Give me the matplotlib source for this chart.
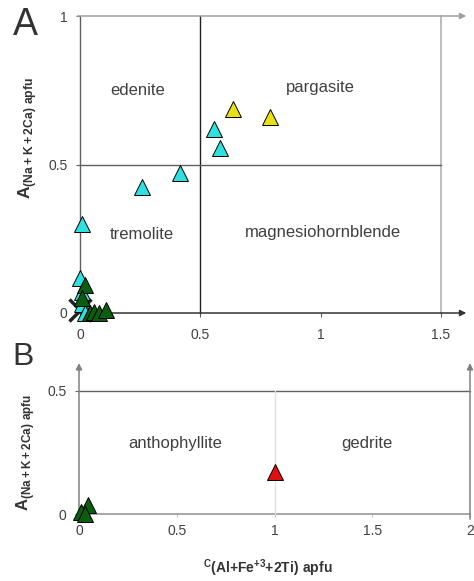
import matplotlib
matplotlib.use('Agg')
import matplotlib.pyplot as plt

plt.rcParams['font.family'] = ['Liberation Sans', 'DejaVu Sans']
plt.rcParams['mathtext.fontset'] = 'custom'
plt.rcParams['mathtext.rm'] = 'Liberation Sans'
plt.rcParams['mathtext.bf'] = 'Liberation Sans:bold'

# panel A: amphiboles (Ca group)
cyan_x = [0.008, 0.257, 0.414, 0.556, 0.58, 0.0, 0.01, 0.01, 0.02]
cyan_y = [0.30, 0.423, 0.472, 0.618, 0.554, 0.118, 0.07, 0.03, 0.0]
yellow_x = [0.635, 0.789]
yellow_y = [0.688, 0.661]
greenA_x = [0.02, 0.01, 0.04, 0.06, 0.08, 0.11]
greenA_y = [0.095, 0.05, 0.0, 0.005, 0.0, 0.01]
cross_x = [0.0]
cross_y = [0.01]

# panel B: Mg-Fe-Mn amphiboles
greenB_x = [0.046, 0.01, 0.03]
greenB_y = [0.038, 0.01, 0.0]
red_x = [1.0]
red_y = [0.17]

ticksA_x = [0, 0.5, 1, 1.5]
ticksA_y = [0, 0.5, 1]
ticksB_x = [0, 0.5, 1, 1.5, 2]
ticksB_y = [0, 0.5]

regionsA = [('edenite', 0.24, 0.75), ('pargasite', 1.0, 0.76),
            ('tremolite', 0.257, 0.264), ('magnesiohornblende', 1.01, 0.27)]
regionsB = [('anthophyllite', 0.49, 0.286), ('gedrite', 1.47, 0.286)]

CYAN = '#2ee0e0'
YELLOW = '#e8e010'
GREEN = '#0b5e10'
RED = '#e01010'
LINE = '#606060'
TXT = '#404040'

fig = plt.figure(figsize=(4.74, 5.81), dpi=100)
axA = fig.add_axes([80/474, 1-313/581, 361/474, 297/581])
axB = fig.add_axes([79/474, 1-514.3/581, 391/474, 148/581])


def arrow(ax, x0, y0, x1, y1, color=LINE):
    ax.annotate('', xy=(x1, y1), xytext=(x0, y0), annotation_clip=False,
                arrowprops=dict(arrowstyle='-|>', color=color, lw=1.1,
                                mutation_scale=9, shrinkA=0, shrinkB=0))


def tri(ax, xs, ys, color, z=3):
    ax.plot(xs, ys, '^', ms=11, mfc=color, mec='black', mew=0.7,
            ls='none', clip_on=False, zorder=z)


for ax in (axA, axB):
    for s in ax.spines.values():
        s.set_visible(False)
    ax.tick_params(length=3, color=LINE, labelcolor=TXT, labelsize=10)

# ---- panel A ----
axA.set_xlim(0, 1.5)
axA.set_ylim(0, 1)
axA.set_xticks(ticksA_x, ['0', '0.5', '1', '1.5'])
axA.set_yticks(ticksA_y, ['0', '0.5', '1'])
axA.tick_params(axis='x', pad=8)
axA.tick_params(axis='y', pad=6)

axA.plot([0, 0], [0, 1], color=LINE, lw=1, clip_on=False)
axA.plot([0.5, 0.5], [0, 1], color='#222222', lw=1, clip_on=False)
axA.plot([1.5, 1.5], [0, 1], color='#b0b0b0', lw=1.2, clip_on=False)
axA.plot([0, 1.5], [0.5, 0.5], color=LINE, lw=1, clip_on=False)
arrow(axA, -0.01, 1, 1.605, 1, color='#a0a0a0')
arrow(axA, 0, 0, 1.605, 0, color='#333333')

axA.plot(cross_x, cross_y, 'x', ms=16, mew=2.5, color='#222222',
         clip_on=False, zorder=2)
tri(axA, greenA_x, greenA_y, GREEN, 4)
tri(axA, cyan_x, cyan_y, CYAN, 3)
tri(axA, yellow_x, yellow_y, YELLOW, 3)

for name, x, y in regionsA:
    axA.text(x, y, name, ha='center', va='center', fontsize=12, color=TXT)

axA.text(-0.22, 0.59, r'$\mathbf{A}_{\mathbf{(Na+K+2Ca)\ apfu}}$',
         rotation=90, ha='center', va='center', fontsize=12.5, color='#333333')
fig.text(13/474, 1-35/581, 'A', fontsize=27, color='#333333')

# ---- panel B ----
axB.set_xlim(0, 2)
axB.set_ylim(0, 0.6)
axB.set_xticks(ticksB_x, ['0', '0.5', '1', '1.5', '2'])
axB.set_yticks(ticksB_y, ['0', '0.5'])
axB.tick_params(axis='x', pad=5, length=2, color='#c0c0c0')
axB.tick_params(axis='y', pad=6)

axB.plot([0, 2], [0, 0], color='#909090', lw=1.1, clip_on=False)
axB.plot([0, 2], [0.5, 0.5], color=LINE, lw=1, clip_on=False)
axB.plot([1, 1], [0, 0.5], color='#e0e0e0', lw=1, clip_on=False)
arrow(axB, 0, 0, 0, 0.613, color='#808080')
arrow(axB, 2, -0.02, 2, 0.613, color='#808080')

tri(axB, greenB_x, greenB_y, GREEN, 4)
tri(axB, red_x, red_y, RED, 3)

for name, x, y in regionsB:
    axB.text(x, y, name, ha='center', va='center', fontsize=12, color=TXT)

axB.text(-0.275, 0.25, r'$\mathbf{A}_{\mathbf{(Na+K+2Ca)\ apfu}}$',
         rotation=90, ha='center', va='center', fontsize=12, color='#333333')
fig.text(268/474, 1-568/581, r'$^{\mathbf{C}}\mathbf{(Al{+}Fe^{+3}{+}2Ti)\ apfu}$',
         ha='center', va='center', fontsize=10, color='#333333')
fig.text(12/474, 1-365/581, 'B', fontsize=23, color='#333333')

fig.savefig('out.png', dpi=100)
